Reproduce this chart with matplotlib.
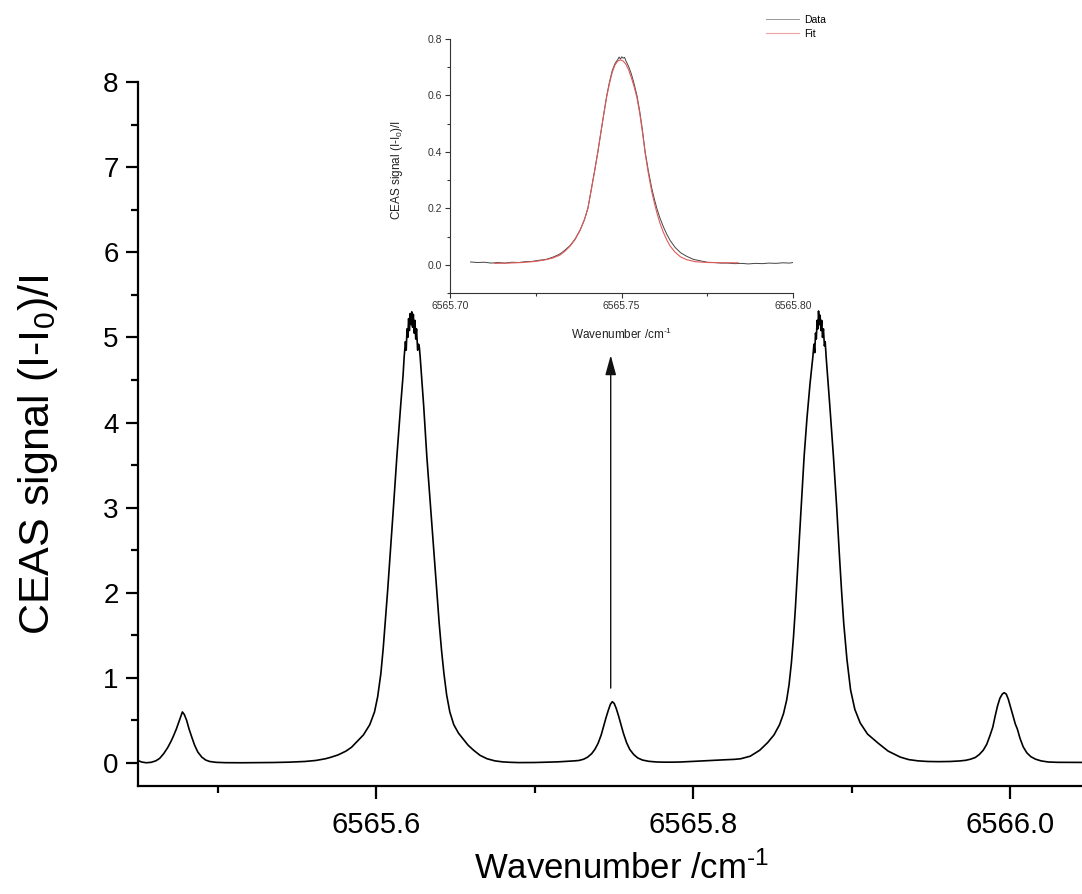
import matplotlib
matplotlib.use("Agg")
import matplotlib.pyplot as plt
from matplotlib.ticker import MultipleLocator, FormatStrFormatter
from matplotlib import font_manager

# ---------------- data ----------------
# main spectrum: wavenumber offset from 6565 cm-1 and CEAS signal
main_wn_offset = [
    .4498, .4520, .4550, .4580, .4610, .4635, .4660, .4685, .4705, .4720,
    .4740, .4755, .4768, .4778, .4790, .4805, .4820, .4838, .4855, .4875,
    .4900, .4925, .4950, .4990, .5050, .5150, .5250, .5350, .5450, .5550,
    .5620, .5680, .5710, .5760, .5810, .5845, .5868, .5920, .5960, .5990,
    .6010, .6030, .6045, .6057, .6073, .6088, .6110, .6131, .6155, .6170,
    .6177, .6185, .6190, .6195, .6200, .6205, .6210, .6215, .6220, .6225,
    .6230, .6235, .6240, .6245, .6250, .6255, .6262, .6268, .6273, .6278,
    .6300, .6320, .6343, .6366, .6382, .6398, .6413, .6428, .6445, .6465,
    .6490, .6520, .6550, .6580, .6615, .6656, .6700, .6750, .6800, .6850,
    .6900, .6950, .7000, .7050, .7100, .7150, .7200, .7250, .7280, .7310,
    .7335, .7360, .7380, .7400, .7420, .7435, .7450, .7465, .7478, .7490,
    .7502, .7515, .7530, .7545, .7560, .7580, .7600, .7625, .7650, .7680,
    .7720, .7770, .7820, .7870, .7920, .7970, .8020, .8080, .8140, .8200,
    .8260, .8300, .8360, .8420, .8470, .8510, .8545, .8570, .8590, .8605,
    .8620, .8633, .8645, .8658, .8672, .8686, .8700, .8718, .8737, .8755,
    .8762, .8767, .8772, .8777, .8782, .8787, .8791, .8796, .8801, .8806,
    .8811, .8816, .8822, .8828, .8833, .8839, .8862, .8885, .8905, .8923,
    .8936, .8950, .8970, .8993, .9020, .9054, .9100, .9169, .9230, .9306,
    .9360, .9420, .9480, .9550, .9620, .9680, .9720, .9750, .9780, .9805,
    .9830, .9852, .9872, .9890, .9905, .9920, .9935, .9950, .9962, .9975,
    .9988, 1.0002, 1.0017, 1.0032, 1.0045, 1.0062, 1.0082, 1.0105, 1.0130, 1.0160,
    1.0195, 1.0240, 1.0300, 1.0370, 1.0450,
]
main_signal = [
    0.030, 0.012, 0.003, 0.008, 0.025, 0.055, 0.110, 0.180, 0.250, 0.310,
    0.400, 0.480, 0.550, 0.600, 0.570, 0.500, 0.400, 0.300, 0.210, 0.130,
    0.070, 0.035, 0.018, 0.008, 0.004, 0.003, 0.004, 0.006, 0.010, 0.018,
    0.030, 0.050, 0.065, 0.095, 0.140, 0.185, 0.230, 0.330, 0.450, 0.600,
    0.780, 1.050, 1.350, 1.640, 2.030, 2.430, 3.020, 3.600, 4.200, 4.550,
    4.770, 4.950, 4.850, 5.100, 5.000, 5.220, 5.080, 5.280, 5.150, 5.300,
    5.120, 5.270, 5.050, 5.200, 4.980, 5.100, 4.850, 4.920, 4.880, 4.770,
    4.200, 3.600, 3.020, 2.430, 2.030, 1.640, 1.320, 1.050, 0.800, 0.600,
    0.450, 0.350, 0.280, 0.210, 0.150, 0.090, 0.050, 0.025, 0.013, 0.008,
    0.005, 0.005, 0.006, 0.008, 0.011, 0.014, 0.019, 0.025, 0.030, 0.045,
    0.070, 0.110, 0.160, 0.230, 0.330, 0.430, 0.530, 0.620, 0.690, 0.720,
    0.700, 0.640, 0.550, 0.450, 0.350, 0.240, 0.160, 0.100, 0.060, 0.035,
    0.020, 0.012, 0.010, 0.010, 0.012, 0.016, 0.021, 0.027, 0.033, 0.038,
    0.043, 0.050, 0.080, 0.150, 0.240, 0.330, 0.450, 0.580, 0.740, 0.920,
    1.180, 1.480, 1.820, 2.250, 2.700, 3.150, 3.600, 4.050, 4.450, 4.770,
    4.920, 4.820, 5.050, 4.980, 5.200, 5.100, 5.310, 5.150, 5.260, 5.080,
    5.200, 5.000, 5.100, 4.900, 4.950, 4.770, 4.200, 3.600, 3.020, 2.430,
    2.030, 1.640, 1.220, 0.860, 0.630, 0.470, 0.340, 0.230, 0.140, 0.070,
    0.040, 0.025, 0.018, 0.016, 0.018, 0.024, 0.032, 0.045, 0.065, 0.100,
    0.150, 0.220, 0.320, 0.420, 0.550, 0.670, 0.760, 0.810, 0.826, 0.810,
    0.750, 0.660, 0.560, 0.460, 0.400, 0.290, 0.190, 0.120, 0.075, 0.045,
    0.025, 0.012, 0.008, 0.007, 0.007,
]

# inset: measured data and fit around 6565.75 cm-1 (offset from 6565)
inset_data_offset = [
    .7060, .7080, .7100, .7120, .7140, .7160, .7180, .7200, .7220, .7240,
    .7260, .7280, .7300, .7315, .7325, .7335, .7350, .7365, .7380, .7392,
    .7402, .7412, .7422, .7431, .7440, .7449, .7457, .7465, .7473, .7481,
    .7489, .7493, .7497, .7501, .7505, .7509, .7513, .7521, .7529, .7537,
    .7545, .7553, .7561, .7569, .7578, .7588, .7596, .7603, .7612, .7622,
    .7632, .7642, .7656, .7672, .7690, .7710, .7730, .7750, .7770, .7790,
    .7810, .7830, .7850, .7870, .7890, .7910, .7930, .7950, .7970, .7990,
    .8000,
]
inset_data_signal = [
    0.010, 0.008, 0.009, 0.006, 0.008, 0.006, 0.009, 0.008, 0.011, 0.012,
    0.016, 0.019, 0.027, 0.035, 0.042, 0.052, 0.068, 0.092, 0.125, 0.160,
    0.200, 0.268, 0.336, 0.400, 0.470, 0.540, 0.600, 0.648, 0.688, 0.713,
    0.727, 0.736, 0.729, 0.737, 0.732, 0.735, 0.722, 0.702, 0.675, 0.640,
    0.600, 0.545, 0.478, 0.400, 0.335, 0.272, 0.232, 0.200, 0.166, 0.135,
    0.108, 0.086, 0.062, 0.043, 0.030, 0.019, 0.014, 0.009, 0.008, 0.006,
    0.006, 0.004, 0.005, 0.003, 0.005, 0.004, 0.006, 0.005, 0.007, 0.006,
    0.008,
]
inset_fit_offset = [
    .7130, .7170, .7210, .7250, .7280, .7300, .7320, .7335, .7350, .7365,
    .7380, .7392, .7402, .7412, .7422, .7431, .7440, .7449, .7457, .7465,
    .7473, .7481, .7489, .7497, .7505, .7513, .7521, .7529, .7537, .7545,
    .7553, .7561, .7569, .7578, .7588, .7596, .7603, .7612, .7622, .7632,
    .7642, .7656, .7672, .7690, .7715, .7750, .7800, .7840,
]
inset_fit_signal = [
    0.005, 0.006, 0.008, 0.012, 0.018, 0.024, 0.034, 0.048, 0.066, 0.090,
    0.124, 0.160, 0.200, 0.266, 0.334, 0.400, 0.470, 0.538, 0.596, 0.643,
    0.682, 0.708, 0.722, 0.726, 0.722, 0.710, 0.690, 0.662, 0.630, 0.592,
    0.538, 0.470, 0.395, 0.326, 0.260, 0.218, 0.185, 0.148, 0.115, 0.088,
    0.066, 0.045, 0.028, 0.018, 0.011, 0.008, 0.007, 0.007,
]

BASE = 6565.0
main_x = [BASE + v for v in main_wn_offset]
inset_dx = [BASE + v for v in inset_data_offset]
inset_fx = [BASE + v for v in inset_fit_offset]

arrow_x = BASE + 0.748
arrow_y_start = 0.88
arrow_y_end = 4.79

legend_labels = ["Data", "Fit"]

# ---------------- fonts ----------------
names = {f.name for f in font_manager.fontManager.ttflist}
REG = "Liberation Sans" if "Liberation Sans" in names else "DejaVu Sans"
plt.rcParams["font.family"] = [REG, "DejaVu Sans"]
plt.rcParams["mathtext.fontset"] = "custom"
plt.rcParams["mathtext.rm"] = REG
plt.rcParams["mathtext.it"] = REG

W, H = 1082, 894
fig = plt.figure(figsize=(W / 100, H / 100), dpi=100)

# ---------------- main axes ----------------
L, R, T, B = 138, 1082, 82, 786
ax = fig.add_axes([L / W, 1 - B / H, (R - L) / W, (B - T) / H])
ax.plot(main_x, main_signal, color="black", lw=1.2)
ax.set_xlim(BASE + 0.4498, BASE + 1.0453)
ax.set_ylim(-0.27, 8)
for s in ("top", "right"):
    ax.spines[s].set_visible(False)
for s in ("left", "bottom"):
    ax.spines[s].set_linewidth(1.6)
ax.xaxis.set_major_locator(MultipleLocator(0.2))
ax.xaxis.set_minor_locator(MultipleLocator(0.1))
ax.xaxis.set_major_formatter(FormatStrFormatter("%.1f"))
ax.yaxis.set_major_locator(MultipleLocator(1))
ax.yaxis.set_minor_locator(MultipleLocator(0.5))
ax.tick_params(which="major", direction="out", length=9, width=1.6)
ax.tick_params(which="minor", direction="out", length=5, width=1.6)
ax.tick_params(axis="y", labelsize=20, pad=5)
ax.tick_params(axis="x", labelsize=21, pad=9)
ax.set_xlabel(r"Wavenumber /cm$^{\text{-}1}$", fontsize=25)
ax.xaxis.set_label_coords((622 - L) / (R - L), -(851 - B) / (B - T))
ax.set_ylabel("CEAS signal (I-I$_0$)/I", fontsize=31)
ax.yaxis.set_label_coords(-(138 - 60) / (R - L), (B - 455) / (B - T))

ax.annotate("", xy=(arrow_x, arrow_y_end), xytext=(arrow_x, arrow_y_start),
            arrowprops=dict(arrowstyle="-|>,head_length=1.2,head_width=0.33",
                            color="#111111", lw=1.0, shrinkA=0, shrinkB=0))

# ---------------- inset ----------------
iL, iR, iT, iB = 450, 793, 39, 293
axi = fig.add_axes([iL / W, 1 - iB / H, (iR - iL) / W, (iB - iT) / H])
axi.patch.set_alpha(0)
l1, = axi.plot(inset_dx, inset_data_signal, color="#444444", lw=0.7)
l2, = axi.plot(inset_fx, inset_fit_signal, color="#e05a5a", lw=0.8)
axi.set_xlim(BASE + 0.70, BASE + 0.80)
axi.set_ylim(-0.1, 0.8)
for s in ("top", "right"):
    axi.spines[s].set_visible(False)
for s in ("left", "bottom"):
    axi.spines[s].set_linewidth(0.8)
    axi.spines[s].set_color("#333333")
axi.xaxis.set_major_locator(MultipleLocator(0.05))
axi.xaxis.set_minor_locator(MultipleLocator(0.025))
axi.xaxis.set_major_formatter(FormatStrFormatter("%.2f"))
axi.yaxis.set_major_locator(MultipleLocator(0.2))
axi.yaxis.set_minor_locator(MultipleLocator(0.1))
axi.yaxis.set_major_formatter(FormatStrFormatter("%.1f"))
axi.tick_params(which="major", direction="out", length=3.5, width=0.8,
                labelsize=7.5, colors="#333333", pad=2)
axi.tick_params(which="minor", direction="out", length=2, width=0.8,
                colors="#333333")
axi.set_xlabel(r"Wavenumber /cm$^{\text{-}1}$", fontsize=8.5, color="#222222")
axi.xaxis.set_label_coords((622 - iL) / (iR - iL), -(327 - iB) / (iB - iT))
axi.set_ylabel("CEAS signal (I-I$_0$)/I", fontsize=8.5, color="#222222")
axi.yaxis.set_label_coords(-(450 - 405) / (iR - iL), (iB - 170) / (iB - iT))

leg = axi.legend([l1, l2], legend_labels, loc="upper left",
                 bbox_to_anchor=(766 / W, 1 - 15 / H),
                 bbox_transform=fig.transFigure, frameon=False,
                 fontsize=7.5, handlelength=3.2, handletextpad=0.5,
                 labelspacing=0.35, borderpad=0, borderaxespad=0)
for h in leg.get_lines():
    h.set_alpha(0.55)

fig.savefig("out.png", dpi=100)
